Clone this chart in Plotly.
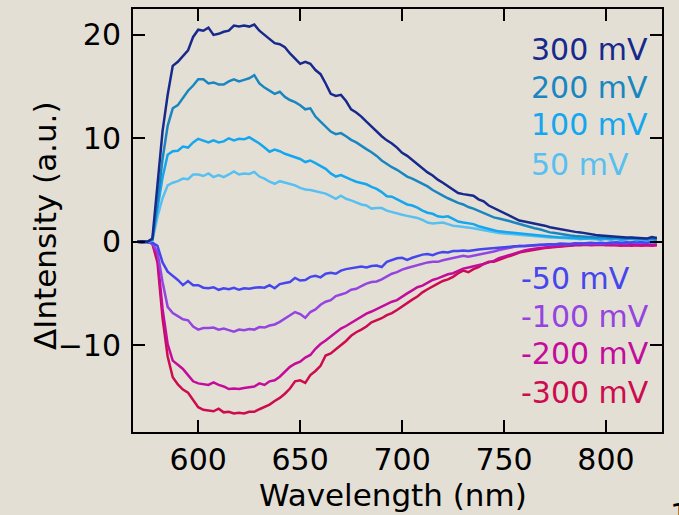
import plotly.graph_objects as go

# Sampling grid (nm)
wavelength = [
    570, 572.5, 575, 577.5, 580, 582.5, 585, 587.5, 590, 592.5,
    595, 597.5, 600, 602.5, 605, 607.5, 610, 612.5, 615, 617.5,
    620, 622.5, 625, 627.5, 630, 632.5, 635, 637.5, 640, 642.5,
    645, 647.5, 650, 652.5, 655, 657.5, 660, 662.5, 665, 667.5,
    670, 672.5, 675, 677.5, 680, 682.5, 685, 687.5, 690, 692.5,
    695, 697.5, 700, 702.5, 705, 707.5, 710, 712.5, 715, 717.5,
    720, 722.5, 725, 727.5, 730, 732.5, 735, 737.5, 740, 742.5,
    745, 747.5, 750, 752.5, 755, 757.5, 760, 762.5, 765, 767.5,
    770, 772.5, 775, 777.5, 780, 782.5, 785, 787.5, 790, 792.5,
    795, 797.5, 800, 802.5, 805, 807.5, 810, 812.5, 815, 817.5,
    820, 822.5, 825,
]

d_300 = [
    0.0, 0.05, 0.0, 0.3, 5.5, 10.7, 14.2, 17.0, 17.4, 17.9,
    18.5, 19.8, 20.5, 20.4, 20.7, 20.0, 20.1, 20.3, 20.4, 20.9,
    20.8, 20.9, 20.8, 21.0, 20.4, 20.0, 19.6, 19.2, 19.1, 18.8,
    18.2, 17.7, 17.2, 17.4, 17.2, 16.6, 16.2, 15.3, 14.3, 14.1,
    14.2, 13.6, 12.8, 12.5, 12.1, 11.6, 11.1, 10.7, 10.2, 9.8,
    9.5, 9.1, 8.6, 8.3, 7.9, 7.5, 7.1, 6.7, 6.4, 6.0,
    5.7, 5.35, 5.0, 4.7, 4.6, 4.5, 4.45, 4.1, 3.9, 3.5,
    3.25, 3.0, 2.8, 2.55, 2.3, 2.05, 1.95, 1.85, 1.8, 1.7,
    1.55, 1.4, 1.3, 1.2, 1.1, 1.05, 0.95, 0.9, 0.8, 0.75,
    0.65, 0.6, 0.55, 0.5, 0.5, 0.45, 0.4, 0.4, 0.35, 0.35,
    0.3, 0.45, 0.35,
]

d_200 = [
    0.0, 0.05, 0.0, 0.2, 3.8, 8.0, 11.2, 12.9, 13.2, 13.9,
    14.6, 15.1, 15.7, 15.7, 15.3, 15.4, 15.2, 15.2, 15.5, 15.7,
    15.5, 15.65, 15.8, 16.1, 15.3, 14.9, 14.6, 14.3, 14.5, 14.0,
    13.7, 13.5, 13.2, 12.8, 12.9, 12.1, 11.6, 11.1, 10.65, 10.4,
    10.5, 10.2, 9.85, 9.6, 9.25, 8.95, 8.65, 8.3, 7.85, 7.5,
    7.2, 6.95, 6.6, 6.3, 6.1, 5.85, 5.6, 5.35, 5.0, 4.7,
    4.45, 4.2, 3.95, 3.75, 3.6, 3.35, 3.2, 3.0, 2.8, 2.6,
    2.35, 2.25, 2.15, 2.0, 1.85, 1.7, 1.55, 1.4, 1.3, 1.2,
    1.05, 0.9, 0.85, 0.75, 0.7, 0.6, 0.55, 0.5, 0.5, 0.45,
    0.4, 0.45, 0.4, 0.35, 0.4, 0.35, 0.3, 0.35, 0.3, 0.3,
    0.25, 0.3, 0.2,
]

d_100 = [
    0.0, 0.05, 0.0, 0.15, 3.2, 6.2, 8.4, 8.75, 8.8, 9.2,
    9.1, 9.6, 9.95, 9.8, 9.6, 9.8, 9.6, 9.7, 10.0, 9.8,
    9.95, 9.9, 10.1, 9.8, 9.5, 9.1, 8.7, 8.9, 8.75, 8.5,
    8.35, 8.2, 8.0, 7.7, 7.85, 7.6, 7.3, 7.05, 6.6, 6.3,
    6.45, 6.2, 6.0, 5.8, 5.65, 5.55, 5.3, 5.1, 4.8, 4.4,
    4.35, 4.1, 3.85, 3.6, 3.5, 3.3, 3.0, 2.8, 2.7, 2.45,
    2.4, 2.45, 2.2, 1.95, 1.85, 1.8, 1.7, 1.5, 1.35, 1.2,
    1.1, 1.0, 0.95, 0.9, 0.85, 0.8, 0.75, 0.7, 0.6, 0.55,
    0.5, 0.45, 0.45, 0.4, 0.4, 0.35, 0.35, 0.3, 0.3, 0.35,
    0.3, 0.25, 0.3, 0.25, 0.3, 0.2, 0.25, 0.3, 0.2, 0.25,
    0.2, 0.25, 0.15,
]

d_50 = [
    0.0, 0.05, 0.0, 0.1, 2.4, 4.2, 5.45, 5.7, 5.85, 6.1,
    6.05, 6.5, 6.5, 6.35, 6.6, 6.25, 6.45, 6.25, 6.5, 6.8,
    6.5, 6.6, 6.55, 6.75, 6.3, 6.1, 5.8, 5.6, 5.85, 5.7,
    5.6, 5.45, 5.2, 5.05, 5.0, 4.9, 4.8, 4.65, 4.4, 4.15,
    4.45, 4.15, 4.0, 3.8, 3.6, 3.5, 3.2, 3.25, 3.25, 3.0,
    2.85, 2.75, 2.6, 2.5, 2.4, 2.3, 2.1, 1.85, 1.75, 1.8,
    1.85, 1.7, 1.55, 1.5, 1.45, 1.4, 1.3, 1.2, 1.1, 1.05,
    0.95, 0.85, 0.8, 0.75, 0.7, 0.65, 0.6, 0.55, 0.5, 0.5,
    0.45, 0.4, 0.4, 0.35, 0.35, 0.3, 0.3, 0.25, 0.3, 0.25,
    0.25, 0.2, 0.25, 0.2, 0.25, 0.15, 0.2, 0.25, 0.15, 0.2,
    0.15, 0.2, 0.1,
]

d_m50 = [
    0.0, -0.05, 0.0, -0.1, -0.4, -2.0, -2.9, -3.3, -3.7, -4.2,
    -3.8, -4.2, -4.2, -4.45, -4.5, -4.4, -4.65, -4.5, -4.6, -4.45,
    -4.65, -4.5, -4.55, -4.45, -4.4, -4.45, -4.2, -4.5, -4.1, -4.0,
    -3.9, -3.5, -3.75, -3.7, -3.4, -3.3, -3.45, -3.1, -3.0, -3.1,
    -2.8, -2.65, -2.55, -2.45, -2.4, -2.5, -2.35, -2.3, -2.45, -1.95,
    -1.75, -1.6, -1.55, -1.75, -1.55, -1.4, -1.25, -1.2, -1.3, -1.1,
    -1.0, -1.05, -0.9, -0.9, -0.85, -0.9, -0.8, -0.75, -0.7, -0.65,
    -0.6, -0.6, -0.55, -0.5, -0.45, -0.45, -0.4, -0.35, -0.35, -0.3,
    -0.3, -0.25, -0.3, -0.2, -0.2, -0.25, -0.15, -0.2, -0.15, -0.1,
    -0.15, -0.1, -0.15, -0.1, -0.05, -0.1, -0.05, -0.1, 0.0, -0.05,
    -0.1, 0.0, -0.05,
]

d_m100 = [
    0.0, -0.05, 0.0, -0.15, -1.0, -3.9, -6.3, -6.9, -7.2, -7.5,
    -7.6, -8.2, -8.5, -8.35, -8.35, -8.3, -8.5, -8.4, -8.55, -8.7,
    -8.5, -8.55, -8.45, -8.5, -8.25, -8.3, -8.1, -8.0, -7.75, -7.45,
    -7.1, -6.8, -7.0, -7.35, -6.8, -6.55, -6.1, -5.8, -5.65, -5.25,
    -5.1, -4.95, -4.65, -4.55, -4.3, -4.05, -3.9, -3.85, -3.65, -3.35,
    -3.1, -2.95, -2.7, -2.55, -2.4, -2.3, -2.15, -2.0, -1.95, -1.95,
    -1.8, -1.7, -1.6, -1.5, -1.35, -1.45, -1.35, -1.25, -1.2, -1.1,
    -0.95, -0.8, -0.7, -0.55, -0.5, -0.4, -0.45, -0.4, -0.35, -0.3,
    -0.3, -0.25, -0.25, -0.2, -0.25, -0.2, -0.2, -0.15, -0.2, -0.15,
    -0.15, -0.2, -0.15, -0.1, -0.15, -0.1, -0.15, -0.05, -0.1, -0.1,
    -0.05, -0.1, -0.05,
]

d_m200 = [
    0.0, -0.05, 0.0, -0.15, -1.5, -6.5, -9.9, -11.5, -11.9, -12.3,
    -12.9, -13.5, -13.7, -13.75, -13.85, -13.6, -13.85, -14.0, -14.25, -14.2,
    -14.25, -14.15, -14.1, -14.0, -13.7, -13.85, -13.5, -13.4, -13.05, -12.55,
    -12.1, -11.8, -11.6, -11.2, -10.95, -10.35, -9.9, -9.55, -9.15, -8.75,
    -8.4, -8.15, -7.85, -7.6, -7.25, -6.95, -6.75, -6.5, -6.25, -6.0,
    -5.8, -5.65, -5.3, -5.0, -4.7, -4.4, -4.25, -3.95, -3.7, -3.55,
    -3.35, -3.15, -3.05, -2.85, -2.6, -2.5, -2.4, -2.25, -2.15, -2.0,
    -1.85, -1.6, -1.45, -1.3, -1.15, -0.95, -0.85, -0.75, -0.65, -0.6,
    -0.55, -0.5, -0.45, -0.4, -0.35, -0.35, -0.3, -0.3, -0.3, -0.25,
    -0.3, -0.25, -0.3, -0.35, -0.3, -0.3, -0.35, -0.3, -0.3, -0.35,
    -0.3, -0.35, -0.3,
]

d_m300 = [
    0.0, -0.05, 0.0, -0.2, -2.0, -7.4, -11.1, -13.1, -13.8, -14.3,
    -14.6, -15.3, -16.0, -16.25, -16.3, -16.4, -16.15, -16.5, -16.45, -16.6,
    -16.55, -16.6, -16.45, -16.45, -16.2, -16.0, -15.75, -15.4, -15.1, -14.7,
    -14.2, -13.5, -13.4, -13.65, -12.9, -12.5, -12.0, -11.0, -10.8, -10.4,
    -10.0, -9.6, -9.1, -8.75, -8.5, -8.2, -7.8, -7.6, -7.4, -7.1,
    -6.9, -6.6, -6.25, -5.9, -5.6, -5.3, -4.9, -4.6, -4.3, -4.05,
    -3.8, -3.65, -3.4, -3.05, -2.8, -2.95, -2.65, -2.45, -2.15, -1.95,
    -1.95, -1.75, -1.55, -1.4, -1.25, -1.05, -0.95, -0.85, -0.75, -0.65,
    -0.6, -0.55, -0.5, -0.45, -0.4, -0.4, -0.35, -0.35, -0.3, -0.35,
    -0.3, -0.3, -0.35, -0.3, -0.35, -0.4, -0.35, -0.4, -0.35, -0.4,
    -0.35, -0.4, -0.35,
]

series_labels = ["300 mV", "200 mV", "100 mV", "50 mV",
                 "-50 mV", "-100 mV", "-200 mV", "-300 mV"]
series_values = [d_300, d_200, d_100, d_50, d_m50, d_m100, d_m200, d_m300]
series_colors = ["#172a8c", "#1a86c0", "#14a6ee", "#58c0f0",
                 "#4646ee", "#9444e0", "#c40c9c", "#cc0c4e"]

x_ticks = [600, 650, 700, 750, 800]
y_ticks = [-10, 0, 10, 20]

BG = "#e4dfd5"
FONT = "DejaVu Sans"

fig = go.Figure()

# Negative-bias curves first so the positive ones sit on top at the baseline
draw_order = [7, 6, 5, 4, 3, 2, 1, 0]
for i in draw_order:
    fig.add_trace(go.Scatter(
        x=wavelength, y=series_values[i], mode="lines",
        line=dict(color=series_colors[i], width=2.5),
        name=series_labels[i], showlegend=False,
    ))

# Colour-coded labels: positive group top right, negative group lower right
label_pos = [
    (0.7486, 0.9035), (0.7486, 0.8141), (0.7486, 0.7271), (0.7486, 0.6329),
    (0.7297, 0.3624), (0.7297, 0.2729), (0.7297, 0.1859), (0.7297, 0.0941),
]
for (px, py), txt, col in zip(label_pos, series_labels, series_colors):
    fig.add_annotation(
        x=px, y=py, xref="paper", yref="paper", text=txt, showarrow=False,
        xanchor="left", yanchor="middle",
        font=dict(family=FONT, size=30, color=col),
    )

# Axis titles
fig.add_annotation(
    x=0.4924, y=-0.148, xref="paper", yref="paper", text="Wavelength (nm)",
    showarrow=False, xanchor="center", yanchor="middle",
    font=dict(family=FONT, size=31, color="black"),
)
fig.add_annotation(
    x=-0.1664, y=0.4894, xref="paper", yref="paper", text="ΔIntensity (a.u.)",
    showarrow=False, xanchor="center", yanchor="middle", textangle=-90,
    font=dict(family=FONT, size=31, color="black"),
)
# Page-number glyph at the lower-right edge
fig.add_annotation(
    x=1.0113, y=-0.148, xref="paper", yref="paper", text="1",
    showarrow=False, xanchor="left", yanchor="top",
    font=dict(family=FONT, size=30, color="black"),
)

axis_common = dict(
    showline=True, linecolor="black", linewidth=2,
    ticks="inside", ticklen=12, tickwidth=2, tickcolor="black",
    mirror="allticks", showgrid=False, zeroline=False,
    tickfont=dict(family=FONT, size=30, color="black"),
)

fig.update_layout(
    width=679, height=515,
    margin=dict(l=133, r=17, t=7, b=83),
    paper_bgcolor=BG, plot_bgcolor=BG,
    xaxis=dict(range=[568, 827.5], tickvals=x_ticks, ticklabelstandoff=0, **axis_common),
    yaxis=dict(range=[-18.4, 22.5], tickvals=y_ticks, ticklabelstandoff=4, **axis_common),
)

fig.write_html("out.html")
